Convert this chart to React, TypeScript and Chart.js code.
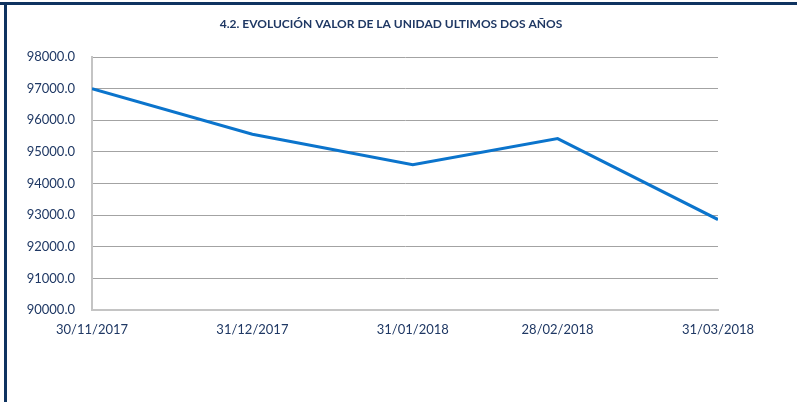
import React, { useEffect, useRef } from "react";
import { Chart, registerables } from "chart.js";

Chart.register(...registerables);

const title = "4.2. EVOLUCIÓN VALOR DE LA UNIDAD ULTIMOS DOS AÑOS";
const dateLabels = ["30/11/2017", "31/12/2017", "31/01/2018", "28/02/2018", "31/03/2018"];
const unitValues = [97000, 95560, 94590, 95420, 92860];
const yMin = 90000;
const yMax = 98000;
const yStep = 1000;

const toDay = (s: string) => {
  const [d, m, y] = s.split("/").map(Number);
  return Date.UTC(y, m - 1, d) / 86400000;
};
const dayOffsets = dateLabels.map((s) => toDay(s) - toDay(dateLabels[0]));

const NAVY = "#1f3864";
const FONT = "Lato, 'Open Sans', sans-serif";

const titlePlugin = {
  id: "customTitle",
  afterDraw(chart: any) {
    const ctx = chart.ctx;
    ctx.save();
    ctx.font = `bold 12px ${FONT}`;
    ctx.fillStyle = NAVY;
    ctx.textAlign = "center";
    ctx.textBaseline = "middle";
    ctx.fillText(title, 391, 24);
    ctx.restore();
  },
};

export default function App() {
  const ref = useRef<HTMLCanvasElement | null>(null);
  useEffect(() => {
    if (!ref.current) return;
    const chart = new Chart(ref.current, {
      type: "line",
      data: {
        datasets: [
          {
            data: dayOffsets.map((x, i) => ({ x, y: unitValues[i] })),
            borderColor: "#0b74cc",
            borderWidth: 3,
            pointRadius: 0,
            tension: 0,
            fill: false,
          },
        ],
      },
      plugins: [titlePlugin],
      options: {
        animation: false,
        responsive: false,
        maintainAspectRatio: false,
        layout: { padding: { top: 57, left: 0, right: 79, bottom: 0 } },
        plugins: {
          legend: { display: false },
          tooltip: { enabled: false },
          title: { display: false },
        },
        scales: {
          x: {
            type: "linear",
            min: dayOffsets[0],
            max: dayOffsets[dayOffsets.length - 1],
            afterBuildTicks: (scale: any) => {
              scale.ticks = dayOffsets.map((v) => ({ value: v }));
            },
            afterFit: (scale: any) => {
              scale.height = 92;
            },
            ticks: {
              autoSkip: false,
              maxRotation: 0,
              padding: 12,
              color: NAVY,
              font: { family: FONT, size: 13 },
              callback: (v: any) => {
                const i = dayOffsets.indexOf(Number(v));
                return i >= 0 ? dateLabels[i] : "";
              },
            },
            grid: { display: false, drawTicks: false },
            border: { display: true, color: "#c4c4c4", width: 2 },
          },
          y: {
            min: yMin,
            max: yMax,
            afterFit: (scale: any) => {
              scale.width = 92;
            },
            ticks: {
              stepSize: yStep,
              padding: 17,
              color: NAVY,
              font: { family: FONT, size: 13 },
              callback: (v: any) => Number(v).toFixed(1),
            },
            grid: { color: "#a3a3a3", lineWidth: 1, drawTicks: false },
            border: { display: true, color: "#c4c4c4", width: 2 },
          },
        },
      },
    });
    return () => chart.destroy();
  }, []);

  return (
    <div
      style={{
        position: "fixed",
        left: 0,
        top: 0,
        width: 797,
        height: 402,
        background: "#fff",
        overflow: "hidden",
      }}
    >
      <div style={{ position: "absolute", left: 0, top: 2, width: 797, height: 3, background: "#0f3360" }} />
      <div style={{ position: "absolute", left: 4, top: 2, width: 3, height: 400, background: "#0f3360" }} />
      <canvas ref={ref} width={797} height={402} style={{ position: "absolute", left: 0, top: 0 }} />
    </div>
  );
}
